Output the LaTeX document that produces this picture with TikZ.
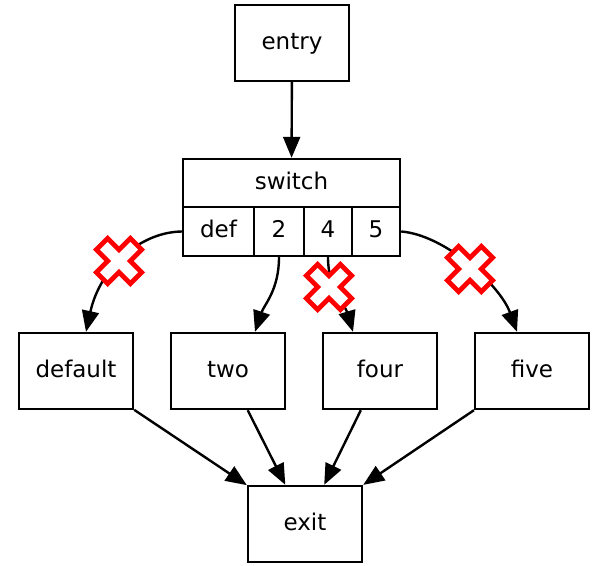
\documentclass[tikz,border=0pt]{standalone}
\usepackage{fontspec}
\setmainfont{DejaVu Sans}
\usetikzlibrary{arrows.meta}
\begin{document}
\begin{tikzpicture}[x=1pt,y=-1pt,
  lbl/.style={font=\fontsize{23}{27}\selectfont, text height=17pt, text depth=5pt},
  box/.style={draw, line width=2.4pt, minimum width=114pt, minimum height=76pt, inner sep=0pt, lbl},
  cell/.style={draw, line width=2.4pt, inner sep=0pt, lbl},
  arr/.style={line width=2.4pt, -{Triangle[length=21pt,width=17pt]}},
  redx/.pic={\draw[red, line width=4.8pt, fill=white, rotate=45, line join=miter]
     (8,8) -- (24,8) -- (24,-8) -- (8,-8) -- (8,-24) -- (-8,-24) -- (-8,-8)
     -- (-24,-8) -- (-24,8) -- (-8,8) -- (-8,24) -- (8,24) -- cycle;}
]
\useasboundingbox (0,0) rectangle (594,565);
\node[box] (entry) at (292,43) {entry};
\node[cell, minimum width=217pt, minimum height=48pt] (head) at (291.5,183) {switch};
\node[cell, minimum width=71pt, minimum height=49pt] (cdef) at (218.5,231.5) {def};
\node[cell, minimum width=50pt, minimum height=49pt] (c2) at (279,231.5) {2};
\node[cell, minimum width=48pt, minimum height=49pt] (c4) at (328,231.5) {4};
\node[cell, minimum width=48pt, minimum height=49pt] (c5) at (376,231.5) {5};
\node[box] (default) at (76,371) {default};
\node[box] (two) at (228,371) {two};
\node[box] (four) at (380,371) {four};
\node[box] (five) at (532,371) {five};
\node[box] (exit) at (305,524) {exit};

\draw[arr] (entry) -- (head);
\draw[arr] (cdef.west) .. controls (140,232) and (100,268) .. ([xshift=10pt]default.north);
\draw[arr] (c2.south) .. controls (279,290) and (264,305) .. ([xshift=27pt]two.north);
\draw[arr] (c4.south) .. controls (328,290) and (345,305) .. ([xshift=-27pt]four.north);
\draw[arr] (c5.east) .. controls (445,235) and (500,285) .. ([xshift=-15pt]five.north);
\draw[arr] (default) -- (exit);
\draw[arr] (two) -- (exit);
\draw[arr] (four) -- (exit);
\draw[arr] (five) -- (exit);

\pic at (119,261) {redx};
\pic at (329,287) {redx};
\pic at (470,269) {redx};
\end{tikzpicture}
\end{document}
